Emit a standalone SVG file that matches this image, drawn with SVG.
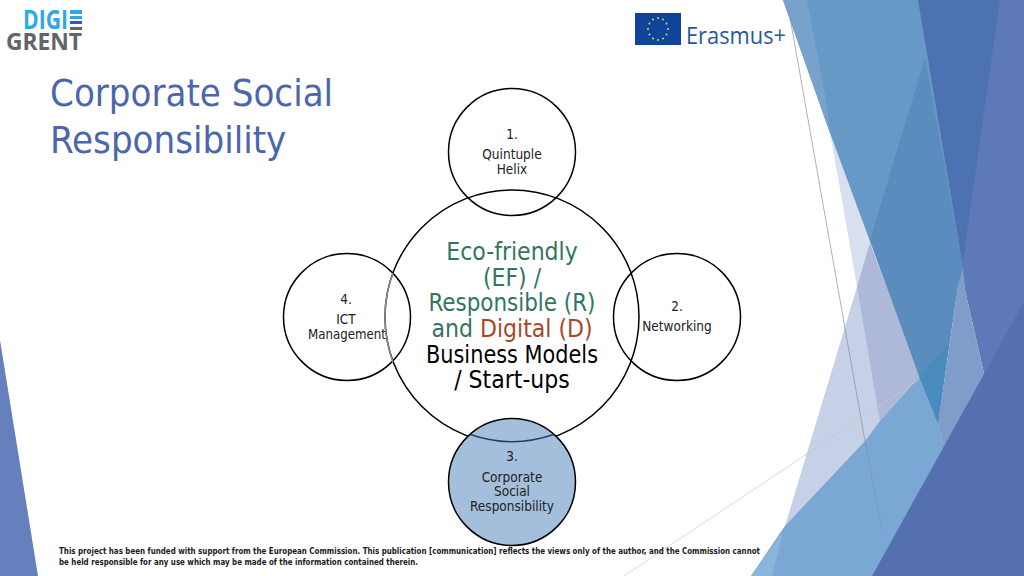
<svg xmlns="http://www.w3.org/2000/svg" width="1024" height="576" viewBox="0 0 1024 576">
<style>
text{font-family:"DejaVu Sans Condensed","DejaVu Sans",sans-serif;text-anchor:middle}
.c{fill:none;stroke:#000;stroke-width:1.5}
.t{font-size:13.5px;fill:#222}
.m{font-size:24.5px}
.g{fill:#33745f}.r{fill:#a5492a}.k{fill:#000}
.f{font-size:8.6px;font-weight:bold;text-anchor:start;fill:#1a1a1a}
</style>
<rect width="1024" height="576" fill="#fff"/>
<g id="backdrop">
<polygon points="0,340 38,576 0,576" fill="#6480bd"/>
<polygon points="830,133 872,245 857,287 842,200" fill="#d8dfee"/>
<polygon points="857,287 785,526 751,576 872,576 950,443 919,376 870,243" fill="#c6d0e7"/>
<polygon points="870,243 857,287 880,421 919,376 888,290" fill="#aeb9da"/>
<polygon points="783,0 920,0 965,267 958,286 949,343 938,424 919,376 888,290 830,133" fill="#6699c5"/>
<polygon points="783,0 807,0 827,105 830,133" fill="#76a2cb"/>
<polygon points="925,58 870,240 888,290 919,376 938,424 958,286 963,267" fill="#5a8cbe"/>
<polygon points="919,377 949,343 938,424" fill="#4a8bbd"/>
<polygon points="918,0 1001,0 963,267" fill="#4d72b2"/>
<polygon points="1000,0 1024,0 1024,310 985,378 965,290 962,267" fill="#5e79b7"/>
<polygon points="963,267 958,286 938,424 943,443 950,443 985,378 965,290" fill="#7f9ccb"/>
<polygon points="919,377 938,424 943,443 955,443 880,576 751,576 785,526 865,441 880,421" fill="#7ba7d5"/>
<polygon points="783,532 751,576 772,576" fill="#8ab6dc"/>
<polygon points="1024,302 1024,576 872,576" fill="#5470b0"/>
</g>
<g id="connectors" fill="none">
<path d="M789,12L865,441" stroke="#8a8f98" stroke-width=".7"/>
<path d="M865,441L882,530" stroke="#6f96c4" stroke-width=".7"/>
<path d="M624,576L807,454L920,379" stroke="#c4c7cc" stroke-width=".7"/>
</g>
<g id="logo-digigrent">
<text x="23" y="29" style="text-anchor:start;font-size:26px;font-weight:bold;fill:#2ea7ea;font-family:'Open Sans',sans-serif" textLength="45" lengthAdjust="spacingAndGlyphs">DIGI</text>
<rect x="70" y="10" width="12" height="4" fill="#2ea7ea"/><rect x="70" y="16" width="12" height="3" fill="#2ea7ea"/><rect x="70" y="21" width="12" height="3" fill="#2b52e0"/><rect x="70" y="27" width="12" height="3" fill="#626468"/>
<text x="6" y="49.500" style="text-anchor:start;font-size:24px;font-weight:bold;fill:#626468;font-family:'Open Sans',sans-serif" textLength="76" lengthAdjust="spacingAndGlyphs">GRENT</text>
</g>
<g id="title"><text x="50" y="106" style="text-anchor:start;font-size:38px;fill:#4a66ac">Corporate Social</text>
<text x="50" y="153" style="text-anchor:start;font-size:38px;fill:#4a66ac">Responsibility</text></g>
<g id="logo-erasmus">
<rect x="635" y="13" width="46" height="32" fill="#10449a"/>
<g fill="#d8dc4a"><circle cx="658" cy="18" r="1"/><circle cx="663" cy="19.500" r="1"/><circle cx="666.500" cy="23.500" r="1"/><circle cx="668" cy="29" r="1"/><circle cx="666.500" cy="34.500" r="1"/><circle cx="663" cy="38.500" r="1"/><circle cx="658" cy="40" r="1"/><circle cx="653" cy="38.500" r="1"/><circle cx="649.500" cy="34.500" r="1"/><circle cx="648" cy="29" r="1"/><circle cx="649.500" cy="23.500" r="1"/><circle cx="653" cy="19.500" r="1"/></g>
<text x="686" y="44" style="text-anchor:start;font-size:23px;fill:#1f5a96;font-family:'Open Sans',sans-serif" textLength="100" lengthAdjust="spacingAndGlyphs">Erasmus+</text>
</g>
<g id="node-top"><circle class="c" cx="512" cy="152" r="63.500" fill="none"/>
<text class="t" x="512" y="139">1.</text><text class="t" x="512" y="159">Quintuple</text><text class="t" x="512" y="174">Helix</text></g>
<g id="node-right"><circle class="c" cx="677" cy="317" r="63.500"/>
<text class="t" x="677" y="311">2.</text><text class="t" x="677" y="331">Networking</text></g>
<g id="node-left"><circle class="c" cx="347" cy="317" r="63.500"/>
<text class="t" x="346" y="304">4.</text><text class="t" x="346" y="324">ICT</text><text class="t" x="347" y="339" textLength="78" lengthAdjust="spacingAndGlyphs">Management</text></g>
<g id="node-center"><circle class="c" cx="512" cy="317" r="127"/>
<path d="M393,273A127,127 0 0 0 393,362" fill="none" stroke="#8c8c8c" stroke-width="1.500"/>
<text class="m g" x="512" y="260">Eco-friendly</text><text class="m g" x="512" y="286">(EF) /</text><text class="m g" x="512" y="311" textLength="167" lengthAdjust="spacingAndGlyphs">Responsible (R)</text>
<text class="m" x="512" y="337"><tspan class="g">and </tspan><tspan class="r">Digital (D)</tspan></text>
<text class="m k" x="512" y="363" textLength="172" lengthAdjust="spacingAndGlyphs">Business Models</text><text class="m k" x="512" y="388">/ Start-ups</text></g>
<g id="node-bottom"><circle cx="512" cy="482" r="63.500" fill="#a3bfdc" stroke="#000" stroke-width="1.500"/>
<path d="M470.500,434.500A127,127 0 0 0 553.500,434.500" fill="none" stroke="#1f3f66" stroke-width="1.500"/>
<text class="t" x="512" y="461">3.</text><text class="t" x="512" y="482">Corporate</text><text class="t" x="512" y="496">Social</text><text class="t" x="512" y="511">Responsibility</text></g>
<g id="footer"><text class="f" x="59" y="554" textLength="701" lengthAdjust="spacingAndGlyphs">This project has been funded with support from the European Commission. This publication [communication] reflects the views only of the author, and the Commission cannot</text>
<text class="f" x="59" y="565" textLength="359" lengthAdjust="spacingAndGlyphs">be held responsible for any use which may be made of the information contained therein.</text></g>
</svg>
